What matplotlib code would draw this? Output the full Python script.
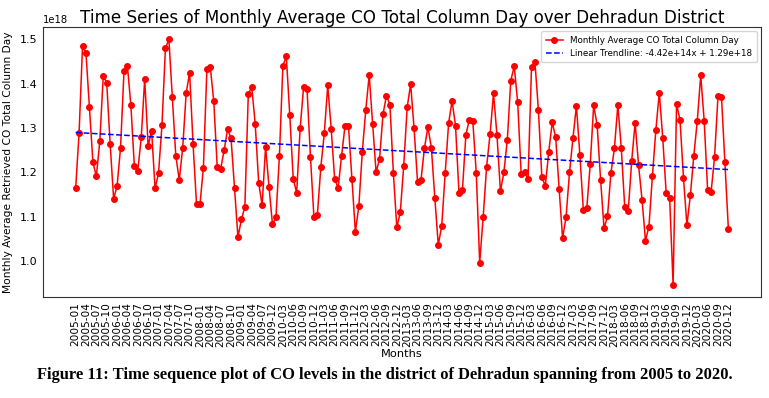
import matplotlib
matplotlib.use("Agg")
import matplotlib.pyplot as plt
import numpy as np
import pandas as pd

# Month categories (2005-01 .. 2020-12, two months of 2009 absent in the data)
all_months = pd.date_range("2005-01-01", "2020-12-01", freq="MS").strftime("%Y-%m").tolist()
missing_months = ["2009-08", "2009-09"]
months = [m for m in all_months if m not in missing_months]

# Monthly average CO total column (units of 1e18)
co_part1 = [1.164, 1.289, 1.485, 1.468, 1.347, 1.223, 1.191, 1.271, 1.418, 1.402,
            1.263, 1.141, 1.169, 1.255, 1.428, 1.439, 1.351, 1.214, 1.204, 1.279,
            1.410, 1.259, 1.294, 1.164, 1.198, 1.307, 1.480, 1.500, 1.371, 1.238,
            1.183, 1.255, 1.378, 1.425, 1.264, 1.129, 1.128, 1.211, 1.432, 1.437,
            1.360, 1.212, 1.208, 1.250, 1.297, 1.277, 1.166, 1.054]
co_part2 = [1.094, 1.122, 1.377, 1.392, 1.309, 1.177, 1.126, 1.258, 1.167, 1.083,
            1.099, 1.236, 1.439, 1.462, 1.330, 1.186, 1.154, 1.299, 1.392, 1.388,
            1.234, 1.099, 1.105, 1.212, 1.288, 1.396, 1.298, 1.185, 1.165, 1.237,
            1.305, 1.305, 1.185, 1.066, 1.124, 1.246, 1.340, 1.419, 1.309, 1.200,
            1.231, 1.331, 1.373, 1.353, 1.199, 1.076, 1.110]
co_part3 = [1.215, 1.347, 1.399, 1.299, 1.179, 1.183, 1.255, 1.302, 1.256, 1.143,
            1.037, 1.079, 1.198, 1.311, 1.361, 1.305, 1.154, 1.161, 1.285, 1.319,
            1.316, 1.199, 0.997, 1.099, 1.213, 1.286, 1.378, 1.284, 1.158, 1.200,
            1.274, 1.407, 1.439, 1.358, 1.197, 1.200, 1.185, 1.437, 1.448, 1.340,
            1.189, 1.170, 1.247, 1.313, 1.279, 1.163, 1.052, 1.099]
co_part4 = [1.200, 1.277, 1.350, 1.240, 1.116, 1.119, 1.218, 1.351, 1.307, 1.184,
            1.074, 1.101, 1.199, 1.254, 1.352, 1.254, 1.121, 1.112, 1.225, 1.312,
            1.216, 1.139, 1.046, 1.078, 1.191, 1.295, 1.380, 1.277, 1.153, 1.142,
            0.947, 1.354, 1.318, 1.188, 1.081, 1.149, 1.238, 1.316, 1.419, 1.316,
            1.160, 1.156, 1.234, 1.372, 1.371, 1.224, 1.073]

trend_slope = -4.42e14
trend_intercept = 1.29e18

values = np.array(co_part1 + co_part2 + co_part3 + co_part4) * 1e18
x = np.arange(len(months))
trend = trend_slope * x + trend_intercept

W, H = 769, 398
fig = plt.figure(figsize=(W / 100, H / 100), dpi=100)
ax = fig.add_axes([43 / W, 1 - 297 / H, (761 - 43) / W, (297 - 27) / H])

ax.plot(x, values, color="red", marker="o", markersize=4, linewidth=1.1,
        label="Monthly Average CO Total Column Day")
ax.plot(x, trend, color="blue", linestyle="--", linewidth=1.1,
        label=f"Linear Trendline: {trend_slope:.2e}x + {trend_intercept:.2e}")

ax.set_xticks(x[::3])
ax.set_xticklabels(months[::3], rotation=90, fontsize=7.6)
ax.tick_params(axis="both", length=0, pad=4)
ax.tick_params(axis="y", labelsize=8)
ax.yaxis.get_offset_text().set_fontsize(7.2)
for s in ax.spines.values():
    s.set_color("#333333")
    s.set_linewidth(0.8)

ax.set_title("Time Series of Monthly Average CO Total Column Day over Dehradun District",
             fontsize=12.1, pad=2)
ax.set_xlabel("Months", fontsize=8.2, labelpad=2)
ax.set_ylabel("Monthly Average Retrieved CO Total Column Day", fontsize=7.7, labelpad=5)
ax.legend(loc="upper right", fontsize=6.3, borderpad=0.5)

fig.text(0.5, 1 - 375 / H,
         "Figure 11: Time sequence plot of CO levels in the district of Dehradun spanning from 2005 to 2020.",
         ha="center", va="center", fontsize=11.9, fontweight="bold", family="Liberation Serif")

fig.savefig("out.png", dpi=100)
